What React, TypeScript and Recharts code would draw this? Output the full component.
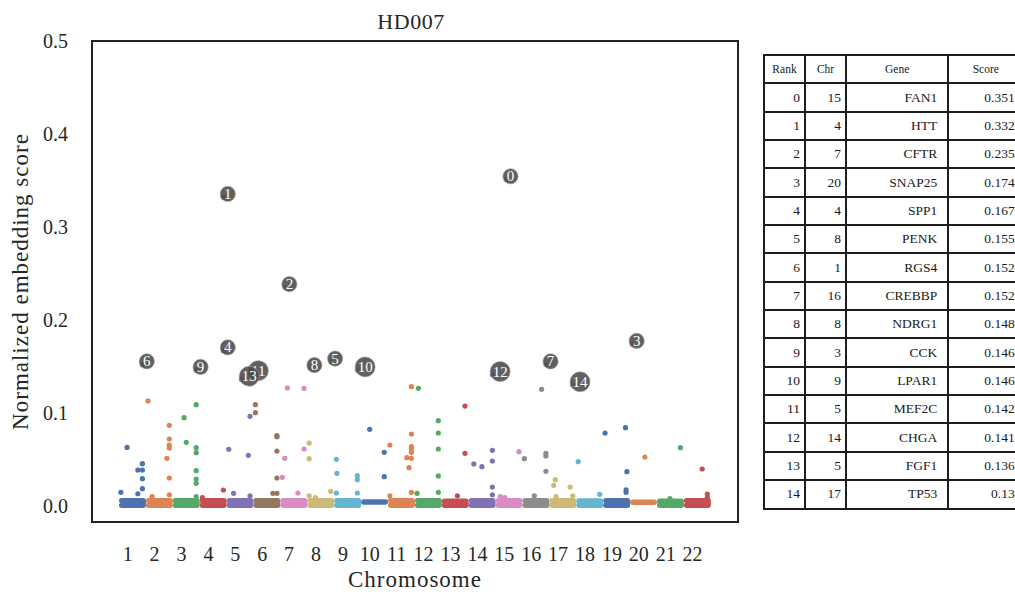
import { ComposedChart, Line, Scatter, XAxis, YAxis, ReferenceArea } from 'recharts';

const FONT = '"Liberation Serif", "Times New Roman", serif';

// chromosomes and the colour each one was drawn with
const chromosomes = [1, 2, 3, 4, 5, 6, 7, 8, 9, 10, 11, 12, 13, 14, 15, 16, 17, 18, 19, 20, 21, 22];
const chromColors = [
  '#4C72B0', '#DD8452', '#55A868', '#C44E52', '#8172B3', '#937860', '#DA8BC3', '#CCB974', '#64B5CD', '#4C72B0',
  '#DD8452', '#55A868', '#C44E52', '#8172B3', '#DA8BC3', '#8C8C8C', '#CCB974', '#64B5CD', '#4C72B0', '#DD8452',
  '#55A868', '#C44E52',
];

// bulk of genes per chromosome: lowest / highest score of the dense band
const bandLow = [0.0008, 0.0008, 0.0008, 0.0008, 0.0008, 0.0008, 0.0008, 0.0008, 0.0008, 0.0043, 0.0008, 0.0008, 0.0008, 0.0008, 0.0008, 0.0008, 0.0008, 0.0008, 0.0008, 0.0040, 0.0008, 0.0008];
const bandHigh = [0.0058, 0.0058, 0.0058, 0.0058, 0.0058, 0.0058, 0.0058, 0.0058, 0.0058, 0.0043, 0.0058, 0.0058, 0.0052, 0.0058, 0.0058, 0.0058, 0.0058, 0.0055, 0.0058, 0.0040, 0.0052, 0.0058];
const bandStart = 0.1;
const bandEnd = 0.9;

// genes standing out of the band: [chromosome, position in chromosome (0-1), score]
const outliers: [number, number, number][] = [
  [1, 0.30, 0.063], [1, 0.87, 0.0455], [1, 0.70, 0.0387], [1, 0.87, 0.0387], [1, 0.87, 0.0294], [1, 0.87, 0.0186], [1, 0.70, 0.0132], [1, 0.07, 0.0147],
  [2, 0.08, 0.113], [2, 0.87, 0.0867], [2, 0.87, 0.072], [2, 0.87, 0.0656], [2, 0.87, 0.0624], [2, 0.78, 0.0513], [2, 0.87, 0.0301], [2, 0.87, 0.012], [2, 0.23, 0.010],
  [3, 0.42, 0.095], [3, 0.87, 0.109], [3, 0.50, 0.0685], [3, 0.87, 0.0627], [3, 0.87, 0.0573], [3, 0.87, 0.038], [3, 0.87, 0.029], [3, 0.87, 0.0244], [3, 0.87, 0.010],
  [4, 0.88, 0.0172], [4, 0.10, 0.009],
  [5, 0.08, 0.061], [5, 0.26, 0.0136], [5, 0.81, 0.0545], [5, 0.87, 0.0964], [5, 0.87, 0.011],
  [6, 0.07, 0.109], [6, 0.07, 0.1003], [6, 0.87, 0.0756], [6, 0.87, 0.0745], [6, 0.87, 0.0591], [6, 0.87, 0.0301], [6, 0.87, 0.0136], [6, 0.72, 0.0136],
  [7, 0.26, 0.127], [7, 0.88, 0.1265], [7, 0.88, 0.0613], [7, 0.16, 0.0513], [7, 0.07, 0.0308], [7, 0.65, 0.014],
  [8, 0.07, 0.0677], [8, 0.07, 0.0509], [8, 0.07, 0.011], [8, 0.87, 0.0158], [8, 0.30, 0.009],
  [9, 0.08, 0.0502], [9, 0.10, 0.0351], [9, 0.08, 0.014], [9, 0.86, 0.0326], [9, 0.86, 0.0283], [9, 0.86, 0.014],
  [10, 0.32, 0.0824], [10, 0.86, 0.0577], [10, 0.86, 0.0315],
  [11, 0.07, 0.0656], [11, 0.07, 0.011], [11, 0.87, 0.1283], [11, 0.87, 0.0774], [11, 0.87, 0.0638], [11, 0.87, 0.0616], [11, 0.87, 0.0577], [11, 0.70, 0.052], [11, 0.87, 0.0513], [11, 0.78, 0.0412], [11, 0.87, 0.0147],
  [12, 0.13, 0.1265], [12, 0.08, 0.0136], [12, 0.87, 0.0918], [12, 0.87, 0.0785], [12, 0.87, 0.0613], [12, 0.87, 0.0323], [12, 0.87, 0.0147],
  [13, 0.86, 0.1075], [13, 0.86, 0.0566], [13, 0.58, 0.011],
  [14, 0.19, 0.0452], [14, 0.49, 0.0423], [14, 0.88, 0.0599], [14, 0.88, 0.0484], [14, 0.88, 0.0204], [14, 0.88, 0.012],
  [15, 0.87, 0.0584], [15, 0.17, 0.010], [15, 0.34, 0.009],
  [16, 0.71, 0.1255], [16, 0.07, 0.0509], [16, 0.87, 0.0566], [16, 0.87, 0.0538], [16, 0.87, 0.0373], [16, 0.44, 0.011],
  [17, 0.22, 0.0283], [17, 0.16, 0.0222], [17, 0.77, 0.0204], [17, 0.25, 0.010], [17, 0.87, 0.011],
  [18, 0.07, 0.0477], [18, 0.87, 0.0126],
  [19, 0.07, 0.0785], [19, 0.83, 0.0842], [19, 0.88, 0.0369], [19, 0.85, 0.0175], [19, 0.85, 0.0147],
  [20, 0.55, 0.0527],
  [21, 0.87, 0.0627], [21, 0.48, 0.008],
  [22, 0.68, 0.0398], [22, 0.87, 0.0129], [22, 0.87, 0.009],
];

// top 15 genes
const topRank = [0, 1, 2, 3, 4, 5, 6, 7, 8, 9, 10, 11, 12, 13, 14];
const topChr = [15, 4, 7, 20, 4, 8, 1, 16, 8, 3, 9, 5, 14, 5, 17];
const topGene = ['FAN1', 'HTT', 'CFTR', 'SNAP25', 'SPP1', 'PENK', 'RGS4', 'CREBBP', 'NDRG1', 'CCK', 'LPAR1', 'MEF2C', 'CHGA', 'FGF1', 'TP53'];
const topScore = [0.351, 0.332, 0.235, 0.174, 0.167, 0.155, 0.152, 0.152, 0.148, 0.146, 0.146, 0.142, 0.141, 0.136, 0.13];
const topPos = [0.39, 0.88, 0.17, 0.08, 0.88, 0.87, 0.87, 0.88, 0.10, 0.87, 0.86, 0.89, 0.88, 0.55, 0.85];

const tableHeaders = ['Rank', 'Chr', 'Gene', 'Score'];
const yTicks = [0, 0.1, 0.2, 0.3, 0.4, 0.5];

const X_MIN = -0.327;
const X_MAX = 23.688;
const Y_MIN = -0.0172;
const Y_MAX = 0.5;
const xOf = (chr: number, pos: number) => chr - 0.323 + pos;

const colorOf = (chr: number) => chromColors[chromosomes.indexOf(chr)];

const topData = topRank.map((r, i) => ({
  x: xOf(topChr[i], topPos[i]),
  y: topScore[i],
  rank: r,
  color: colorOf(topChr[i]),
}));

const TopGeneShape = (props: any) => {
  const { cx, cy, payload } = props;
  const label = String(payload.rank);
  const two = label.length > 1;
  const tx = cx + (two ? 7.8 : 4.4);
  const ty = cy - 3.3;
  return (
    <g>
      <circle cx={cx} cy={cy} r={2.6} fill={payload.color} />
      <circle cx={tx} cy={ty} r={two ? 10 : 7.6} fill="#4a4a4a" fillOpacity={0.88} stroke="#9a9a9a" strokeWidth={0.6} />
      <text x={tx} y={ty} dy="0.34em" textAnchor="middle" fill="#fff" fontSize={15} fontFamily={FONT}>
        {label}
      </text>
    </g>
  );
};

const colW = [41, 41, 102.4, 74.8];
const cellBase = {
  border: '2px solid #1e1e1e',
  padding: 0,
  height: 28.35,
  boxSizing: 'border-box' as const,
};

const App = () => {
  return (
    <div style={{ position: 'absolute', left: 0, top: 0, width: 1015, height: 592, overflow: 'hidden', background: '#fff', fontFamily: FONT }}>
      <div style={{ position: 'absolute', left: 88, top: 9, width: 646, textAlign: 'center', fontSize: 22, letterSpacing: 0.5, color: '#262626' }}>
        HD007
      </div>
      <div style={{ position: 'absolute', left: 0, top: 0 }}>
        <ComposedChart width={760} height={592} margin={{ top: 41, right: 22, bottom: 30, left: 15 }}>
          <XAxis
            type="number"
            dataKey="x"
            domain={[X_MIN, X_MAX]}
            ticks={chromosomes}
            interval={0}
            allowDataOverflow
            axisLine={false}
            tickLine={false}
            tickSize={0}
            tickMargin={25}
            height={40}
            tick={{ fill: '#262626', fontSize: 20, fontFamily: FONT }}
            label={{ value: 'Chromosome', position: 'bottom', offset: 9, fill: '#262626', fontSize: 23, fontFamily: FONT, letterSpacing: 1 }}
          />
          <YAxis
            type="number"
            dataKey="y"
            domain={[Y_MIN, Y_MAX]}
            ticks={yTicks}
            interval={0}
            allowDataOverflow
            axisLine={false}
            tickLine={false}
            tickSize={0}
            tickMargin={24}
            width={77}
            tickFormatter={(v: number) => v.toFixed(1)}
            tick={{ fill: '#262626', fontSize: 20, fontFamily: FONT }}
            label={{ value: 'Normalized embedding score', angle: -90, position: 'insideLeft', offset: 5, style: { textAnchor: 'middle' }, fill: '#262626', fontSize: 23, fontFamily: FONT, letterSpacing: 1 }}
          />
          {chromosomes.map((c, i) => (
            <Line
              key={'band' + c}
              data={[
                { x: xOf(c, bandStart), y: bandLow[i] },
                { x: xOf(c, bandEnd), y: bandLow[i] },
                { x: xOf(c, bandEnd), y: bandHigh[i] },
                { x: xOf(c, bandStart), y: bandHigh[i] },
              ]}
              dataKey="y"
              type="linear"
              stroke={chromColors[i]}
              strokeWidth={5.4}
              strokeLinecap="round"
              strokeLinejoin="round"
              dot={false}
              activeDot={false}
              isAnimationActive={false}
            />
          ))}
          {chromosomes.map((c, i) => (
            <Scatter
              key={'pts' + c}
              data={outliers.filter((o) => o[0] === c).map((o) => ({ x: xOf(o[0], o[1]), y: o[2] }))}
              dataKey="y"
              fill={chromColors[i]}
              shape={(p: any) => <circle cx={p.cx} cy={p.cy} r={2.6} fill={chromColors[i]} />}
              isAnimationActive={false}
            />
          ))}
          <Scatter data={topData} dataKey="y" shape={TopGeneShape} isAnimationActive={false} />
          <ReferenceArea x1={X_MIN} x2={X_MAX} y1={Y_MIN} y2={Y_MAX} fill="none" stroke="#222" strokeWidth={2} ifOverflow="visible" />
        </ComposedChart>
      </div>
      <table
        style={{
          position: 'absolute',
          left: 763,
          top: 54,
          borderCollapse: 'collapse',
          tableLayout: 'fixed',
          width: colW.reduce((a, b) => a + b, 0),
          color: '#1a1a1a',
          fontFamily: FONT,
        }}
      >
        <colgroup>
          {colW.map((w, i) => (
            <col key={i} style={{ width: w }} />
          ))}
        </colgroup>
        <thead>
          <tr>
            {tableHeaders.map((h) => (
              <th key={h} style={{ ...cellBase, fontWeight: 'normal', fontSize: 11.5, textAlign: 'center' }}>
                {h}
              </th>
            ))}
          </tr>
        </thead>
        <tbody>
          {topRank.map((r, i) => (
            <tr key={r}>
              {[String(r), String(topChr[i]), topGene[i], String(topScore[i])].map((v, j) => (
                <td key={j} style={{ ...cellBase, fontSize: 13.5, textAlign: 'right', paddingRight: colW[j] * 0.1 }}>
                  {v}
                </td>
              ))}
            </tr>
          ))}
        </tbody>
      </table>
    </div>
  );
};

export default App;
